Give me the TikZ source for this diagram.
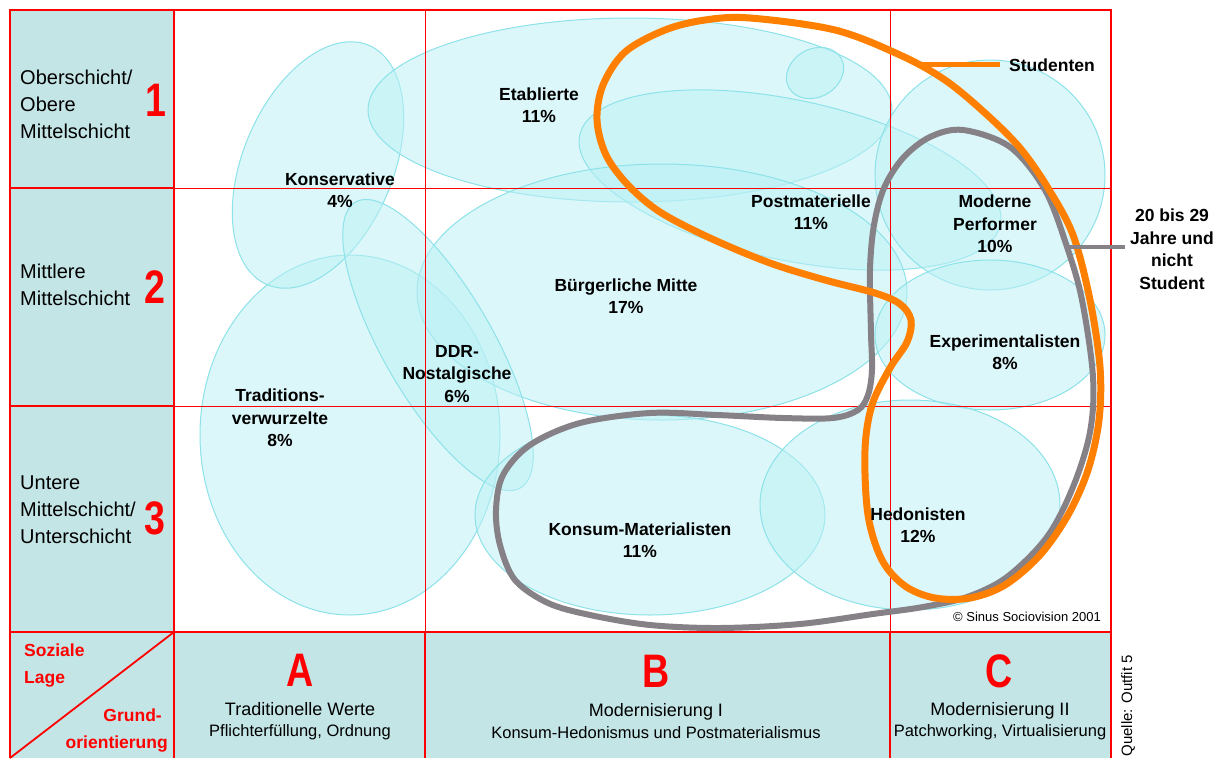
\documentclass[tikz,border=0pt]{standalone}
\usepackage{fontspec}
\setmainfont{Liberation Sans}
\newfontfamily\narrowfont[FakeStretch=0.8]{Liberation Sans}
\definecolor{gridred}{RGB}{255,0,0}
\definecolor{sidefill}{RGB}{196,229,230}
\definecolor{blobfill}{RGB}{186,240,245}
\definecolor{blobline}{RGB}{140,226,232}
\definecolor{studorange}{RGB}{255,128,0}
\definecolor{agegray}{RGB}{133,129,134}

\begin{document}
\begin{tikzpicture}[x=1pt,y=1pt,yscale=-1,
  blob/.style={fill=blobfill,fill opacity=0.5,draw=blobline,line width=1pt},
  thinred/.style={draw=gridred,line width=1pt},
  thickred/.style={draw=gridred,line width=2.4pt},
  lbl/.style={font=\fontsize{17.5}{22.5}\selectfont\bfseries,align=center,inner sep=0pt},
  sidetext/.style={font=\fontsize{20}{27}\selectfont,align=left,anchor=west,inner sep=0pt},
  bignum/.style={font=\narrowfont\bfseries\fontsize{47}{47}\selectfont,text=gridred,inner sep=0pt},
  redlbl/.style={font=\fontsize{17.5}{27}\selectfont\bfseries,text=gridred,inner sep=0pt},
  foottext/.style={font=\fontsize{16.5}{21.5}\selectfont,align=center,inner sep=0pt}]
\useasboundingbox (0,0) rectangle (1224,758);

%Shape: Rectangle
\fill [sidefill] (10,10) rectangle (174,632);
\fill [sidefill] (10,632) rectangle (1111,758);

%Shape: Ellipse
\begin{scope}
\clip (174,10) rectangle (1111,632);
\draw [blob] (350,435) ellipse (150 and 180);
\draw [blob,rotate around={-67:(318,165)}] (318,165) ellipse (130 and 75);
\draw [blob] (630,110) ellipse (262 and 92);
\draw [blob,rotate around={12:(790,180)}] (790,180) ellipse (215 and 80);
\draw [blob,rotate around={-30:(815,73)}] (815,73) ellipse (30 and 24);
\draw [blob] (990,175) ellipse (115 and 115);
\draw [blob] (662,292) ellipse (245 and 128);
\draw [blob,rotate around={60:(438,345)}] (438,345) ellipse (165 and 55);
\draw [blob] (990,335) ellipse (115 and 75);
\draw [blob] (650,515) ellipse (175 and 100);
\draw [blob] (910,505) ellipse (150 and 105);
\end{scope}

%Straight Lines
\draw [thinred] (174,188) -- (1111,188);
\draw [thinred] (174,406) -- (1111,406);
\draw [thinred] (425,10) -- (425,632);
\draw [thinred] (890,10) -- (890,632);
\draw [thinred,line width=1.6pt] (425,632) -- (425,758);
\draw [thinred,line width=1.6pt] (890,632) -- (890,758);
\draw [thinred,line width=1.8pt] (10,188) -- (174,188);
\draw [thinred,line width=1.8pt] (10,406) -- (174,406);
\draw [thinred,line width=1.8pt] (174,632) -- (10,758);
\draw [thickred] (10,758) -- (10,10) -- (1111,10) -- (1111,758);
\draw [thickred] (174,10) -- (174,758);
\draw [thickred] (10,632) -- (1111,632);

%Curve Lines
\draw [agegray,line width=6pt,line join=round] plot[smooth cycle,tension=0.55] coordinates {
  (963,130) (1010,147) (1045,190) (1067,247) (1082,300) (1093,377) (1090,432)
  (1073,487) (1047,537) (1007,577) (967,597) (923,607) (873,614) (800,624)
  (720,628) (650,625) (590,615) (548,603) (515,580) (500,545) (496,510)
  (503,475) (530,445) (580,423) (650,413) (717,415) (783,418) (833,418)
  (858,410) (868,395) (872,370) (871,333) (870,270) (874,225) (884,188)
  (903,158) (930,137)};
\draw [studorange,line width=7pt,line join=round] plot[smooth cycle,tension=0.55] coordinates {
  (750,18) (835,30) (900,55) (945,80) (985,113) (1020,148) (1048,188)
  (1073,235) (1090,300) (1100,367) (1099,420) (1088,470) (1068,515)
  (1040,555) (1005,585) (970,598) (935,598) (905,586) (882,560) (868,515)
  (865,450) (872,405) (890,368) (907,342) (911,320) (900,304) (875,293)
  (825,280) (770,263) (710,238) (660,212) (628,185) (606,155) (597,120)
  (603,85) (625,52) (665,30) (705,20)};
\coordinate (studhook) at (919,64);
\coordinate (agehook) at (1066,247);

% Text Node
\node [sidetext] (row1) at (20,104) {Oberschicht/\\Obere\\Mittelschicht};
\node [sidetext] (row2) at (20,285) {Mittlere\\Mittelschicht};
\node [sidetext] (row3) at (20,510) {Untere\\Mittelschicht/\\Unterschicht};
\node [bignum] (num1) at (156,100) {1};
\node [bignum] (num2) at (155,287) {2};
\node [bignum] (num3) at (155,518) {3};

% Text Node
\node [redlbl,align=left,anchor=west] (lage) at (24,666) {Soziale\\Lage};
\node [redlbl,align=right,anchor=east] (orient) at (168,731) {Grund-\hspace*{6pt}\\orientierung};

% Text Node
\node [bignum] (colA) at (300,670) {A};
\node [bignum] (colB) at (656,671) {B};
\node [bignum] (colC) at (999,671) {C};
\node [foottext] (footA) at (300,721) {{\fontsize{18}{21.5}\selectfont Traditionelle Werte}\\Pflichterfüllung, Ordnung};
\node [foottext] (footB) at (656,721) {{\fontsize{18}{21.5}\selectfont Modernisierung I}\\Konsum-Hedonismus und Postmaterialismus};
\node [foottext] (footC) at (1000,721) {{\fontsize{18}{21.5}\selectfont Modernisierung II}\\Patchworking, Virtualisierung};

% Text Node
\node [lbl] (konserv) at (340,190) {Konservative\\4\%};
\node [lbl] (etabl) at (539,105) {Etablierte\\11\%};
\node [lbl] (postmat) at (811,212) {Postmaterielle\\11\%};
\node [lbl] (modperf) at (995,224) {Moderne\\Performer\\10\%};
\node [lbl] (buerger) at (626,296) {Bürgerliche Mitte\\17\%};
\node [lbl] (ddr) at (457,374) {DDR-\\Nostalgische\\6\%};
\node [lbl] (tradi) at (280,418) {Traditions-\\verwurzelte\\8\%};
\node [lbl] (experi) at (1005,352) {Experimentalisten\\8\%};
\node [lbl] (konsum) at (640,540) {Konsum-Materialisten\\11\%};
\node [lbl] (hedon) at (918,525) {Hedonisten\\12\%};

% Text Node
\node [lbl,anchor=west,inner xsep=9pt] (stud) at (1000,65) {Studenten};
\node [lbl,inner xsep=5pt] (alter) at (1172,249) {20 bis 29\\Jahre und\\nicht\\Student};
\draw [studorange,line width=5pt] (studhook) -- (studhook -| stud.west);
\draw [agegray,line width=4.5pt] (agehook) -- (agehook -| alter.west);

% Text Node
\node [font=\fontsize{13}{15}\selectfont,anchor=east,inner sep=0pt] (copy) at (1101,617) {© Sinus Sociovision 2001};
\node [font=\fontsize{15}{17}\selectfont,rotate=90,anchor=east,inner sep=0pt] (quelle) at (1128,655) {Quelle: Outfit 5};

\end{tikzpicture}
\end{document}
